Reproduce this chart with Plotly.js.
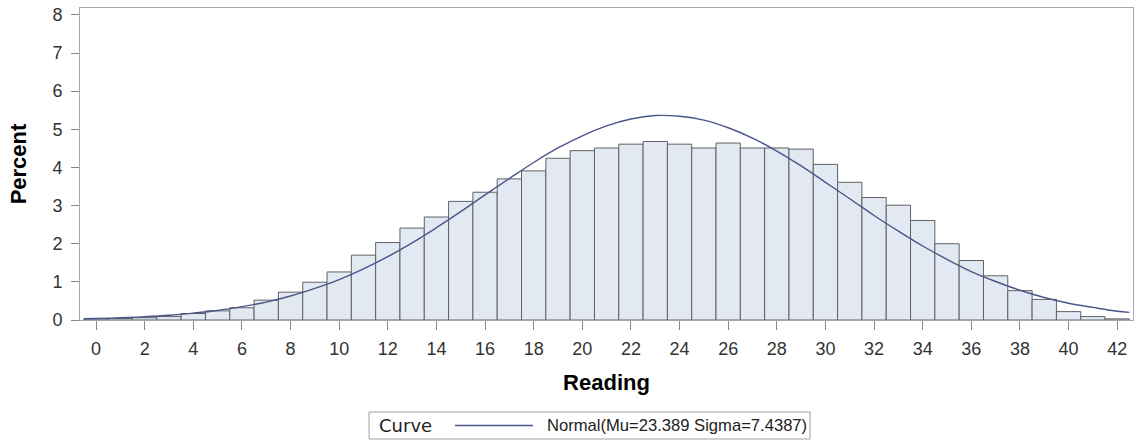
<!DOCTYPE html>
<html>
<head>
<meta charset="utf-8">
<script src="https://cdn.plot.ly/plotly-3.0.1.min.js"></script>
<style>
html,body{margin:0;padding:0;background:#fff;}
#chart{width:1135px;height:443px;}
</style>
</head>
<body>
<div id="chart"></div>
<script>
// Histogram bins (Reading midpoints) and percent heights
const readings = [0,1,2,3,4,5,6,7,8,9,10,11,12,13,14,15,16,17,18,19,20,21,22,23,24,25,26,27,28,29,30,31,32,33,34,35,36,37,38,39,40,41,42];
const percents = [0.03,0.04,0.06,0.09,0.17,0.24,0.32,0.52,0.73,0.99,1.26,1.70,2.03,2.41,2.70,3.11,3.35,3.70,3.91,4.24,4.44,4.51,4.61,4.68,4.61,4.51,4.64,4.51,4.51,4.48,4.08,3.61,3.21,3.01,2.61,2.00,1.56,1.16,0.77,0.54,0.22,0.09,0.03];

// Fitted normal curve
const curveX = [-0.5,0,1,2,3,4,5,6,7,8,9,10,11,12,13,14,15,16,17,18,19,20,21,22,23,24,25,26,27,28,29,30,31,32,33,34,35,36,37,38,39,40,41,42,42.5];
const curveY = [0.031,0.038,0.058,0.086,0.125,0.18,0.25,0.35,0.47,0.63,0.83,1.06,1.34,1.66,2.02,2.42,2.84,3.28,3.71,4.13,4.51,4.83,5.09,5.27,5.36,5.34,5.24,5.04,4.77,4.43,4.04,3.61,3.18,2.74,2.33,1.94,1.59,1.27,1.01,0.78,0.59,0.44,0.33,0.23,0.20];

const xTicks = [0,2,4,6,8,10,12,14,16,18,20,22,24,26,28,30,32,34,36,38,40,42];
const yTicks = [0,1,2,3,4,5,6,7,8];
const curveLabel = "Normal(Mu=23.389 Sigma=7.4387)";
const legendTitle = "Curve";

const traces = [
  {
    type: 'bar',
    x: readings,
    y: percents,
    width: 1,
    marker: {color: '#e3e9f3', line: {color: '#5f6166', width: 1}},
    showlegend: false,
    hoverinfo: 'x+y'
  },
  {
    type: 'scatter',
    mode: 'lines',
    x: curveX,
    y: curveY,
    line: {color: '#4b5587', width: 1.4, shape: 'spline'},
    name: curveLabel,
    showlegend: false
  }
];

// legend drawn in paper coordinates (box, sample line, texts)
const lgFont = 'Liberation Sans, Arial, sans-serif';
const layout = {
  width: 1135,
  height: 443,
  margin: {l: 80, r: 2, t: 8, b: 123},
  paper_bgcolor: '#fff',
  plot_bgcolor: '#fff',
  font: {family: 'Liberation Sans, Arial, sans-serif', color: '#333', size: 18},
  bargap: 0,
  showlegend: false,
  xaxis: {
    range: [-0.66, 42.65],
    tickvals: xTicks,
    ticktext: xTicks.map(String),
    ticks: 'outside',
    ticklen: 9,
    tickcolor: '#888',
    tickfont: {size: 18, color: '#333'},
    ticklabelstandoff: 3,
    showgrid: false,
    zeroline: false,
    showline: true,
    linecolor: '#a8a8a8',
    linewidth: 1,
    mirror: true,
    title: {text: 'Reading', font: {size: 22, color: '#000', family: 'Liberation Sans, Arial, sans-serif', weight: 'bold'}, standoff: 17},
    automargin: false
  },
  yaxis: {
    range: [0, 8.18],
    tickvals: yTicks,
    ticktext: yTicks.map(String),
    ticks: 'outside',
    ticklen: 8,
    tickcolor: '#888',
    tickfont: {size: 18, color: '#333'},
    ticklabelstandoff: 5,
    showgrid: false,
    zeroline: false,
    showline: true,
    linecolor: '#a8a8a8',
    linewidth: 1,
    mirror: true,
    title: {text: 'Percent', font: {size: 22, color: '#000', family: 'Liberation Sans, Arial, sans-serif', weight: 'bold'}, standoff: 19},
    automargin: false
  },
  shapes: [
    {type: 'rect', xref: 'paper', yref: 'paper', x0: 0.2745, x1: 0.6933, y0: -0.2949, y1: -0.3814,
     line: {color: '#a0a0a0', width: 1}, fillcolor: '#fff'},
    {type: 'line', xref: 'paper', yref: 'paper', x0: 0.3561, x1: 0.4302, y0: -0.3381, y1: -0.3381,
     line: {color: '#4b5587', width: 1.4}}
  ],
  annotations: [
    {text: legendTitle, xref: 'paper', yref: 'paper', x: 0.282, y: -0.3381, xanchor: 'left', yanchor: 'middle',
     showarrow: false, font: {family: 'DejaVu Sans, sans-serif', size: 18, color: '#222'}},
    {text: curveLabel, xref: 'paper', yref: 'paper', x: 0.4416, y: -0.3381, xanchor: 'left', yanchor: 'middle',
     showarrow: false, font: {family: lgFont, size: 16.6, color: '#222'}}
  ]
};

Plotly.newPlot('chart', traces, layout, {displayModeBar: false, staticPlot: true});
</script>
</body>
</html>
